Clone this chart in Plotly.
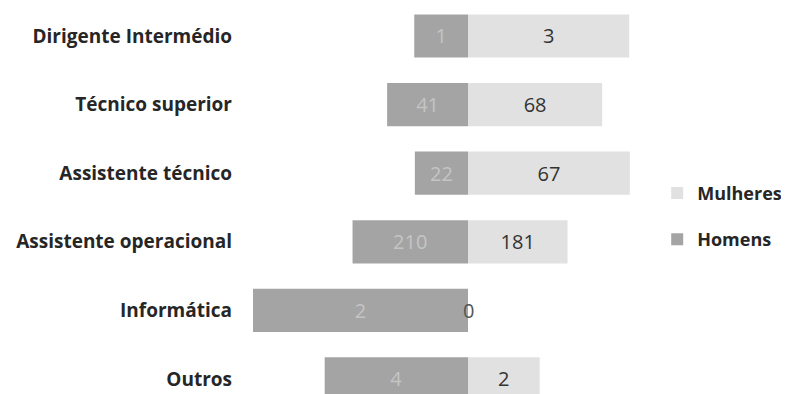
import plotly.graph_objects as go

categorias = ['Dirigente Intermédio', 'Técnico superior', 'Assistente técnico',
              'Assistente operacional', 'Informática', 'Outros']
homens = [1, 41, 22, 210, 2, 4]
mulheres = [3, 68, 67, 181, 0, 2]

# each row is split as a share of its own total (homens to the left)
totais = [h + m for h, m in zip(homens, mulheres)]
homens_pct = [-100 * h / t for h, t in zip(homens, totais)]
mulheres_pct = [100 * m / t for m, t in zip(mulheres, totais)]

fonte = 'Open Sans'

fig = go.Figure()
fig.add_trace(go.Bar(
    y=categorias, x=mulheres_pct, name='Mulheres', orientation='h',
    legendgroup='m', legendrank=1,
    marker=dict(color='#e1e1e1', line=dict(width=0)),
    text=['' if v == 0 else str(v) for v in mulheres],
    textposition='inside', insidetextanchor='middle',
    textfont=dict(family=fonte, size=20, color='#333333'),
))
fig.add_trace(go.Bar(
    y=categorias, x=homens_pct, name='Homens', orientation='h',
    legendgroup='h', legendrank=2,
    marker=dict(color='#a4a4a4', line=dict(width=0)),
    text=[str(v) for v in homens],
    textposition='inside', insidetextanchor='middle',
    textfont=dict(family=fonte, size=20, color='#c4c4c4'),
))

# zero-width bars get their label on the axis line
for cat, v in zip(categorias, mulheres):
    if v == 0:
        fig.add_annotation(x=0, y=cat, text=str(v), showarrow=False,
                           xanchor='center', font=dict(family=fonte, size=20, color='#555555'))

fig.update_layout(
    width=781, height=386,
    barmode='relative', bargap=0.37,
    plot_bgcolor='white', paper_bgcolor='white',
    margin=dict(l=245, r=106, t=0, b=0, autoexpand=False),
    font=dict(family=fonte, color='#262626'),
    xaxis=dict(range=[-100, 100], visible=False, fixedrange=True, automargin=False),
    yaxis=dict(categoryorder='array', categoryarray=categorias, automargin=False,
               range=[5.219, -0.408], showgrid=False, zeroline=False,
               showline=False, ticks='', ticklabelstandoff=20,
               tickfont=dict(family=fonte, size=19, color='#262626', weight='bold')),
    legend=dict(x=0.94, y=0.568, xanchor='left', yanchor='top',
                tracegroupgap=20, traceorder='grouped',
                font=dict(family=fonte, size=18, color='#262626', weight='bold'),
                itemwidth=30),
    showlegend=True,
)

fig.write_html('out.html')
